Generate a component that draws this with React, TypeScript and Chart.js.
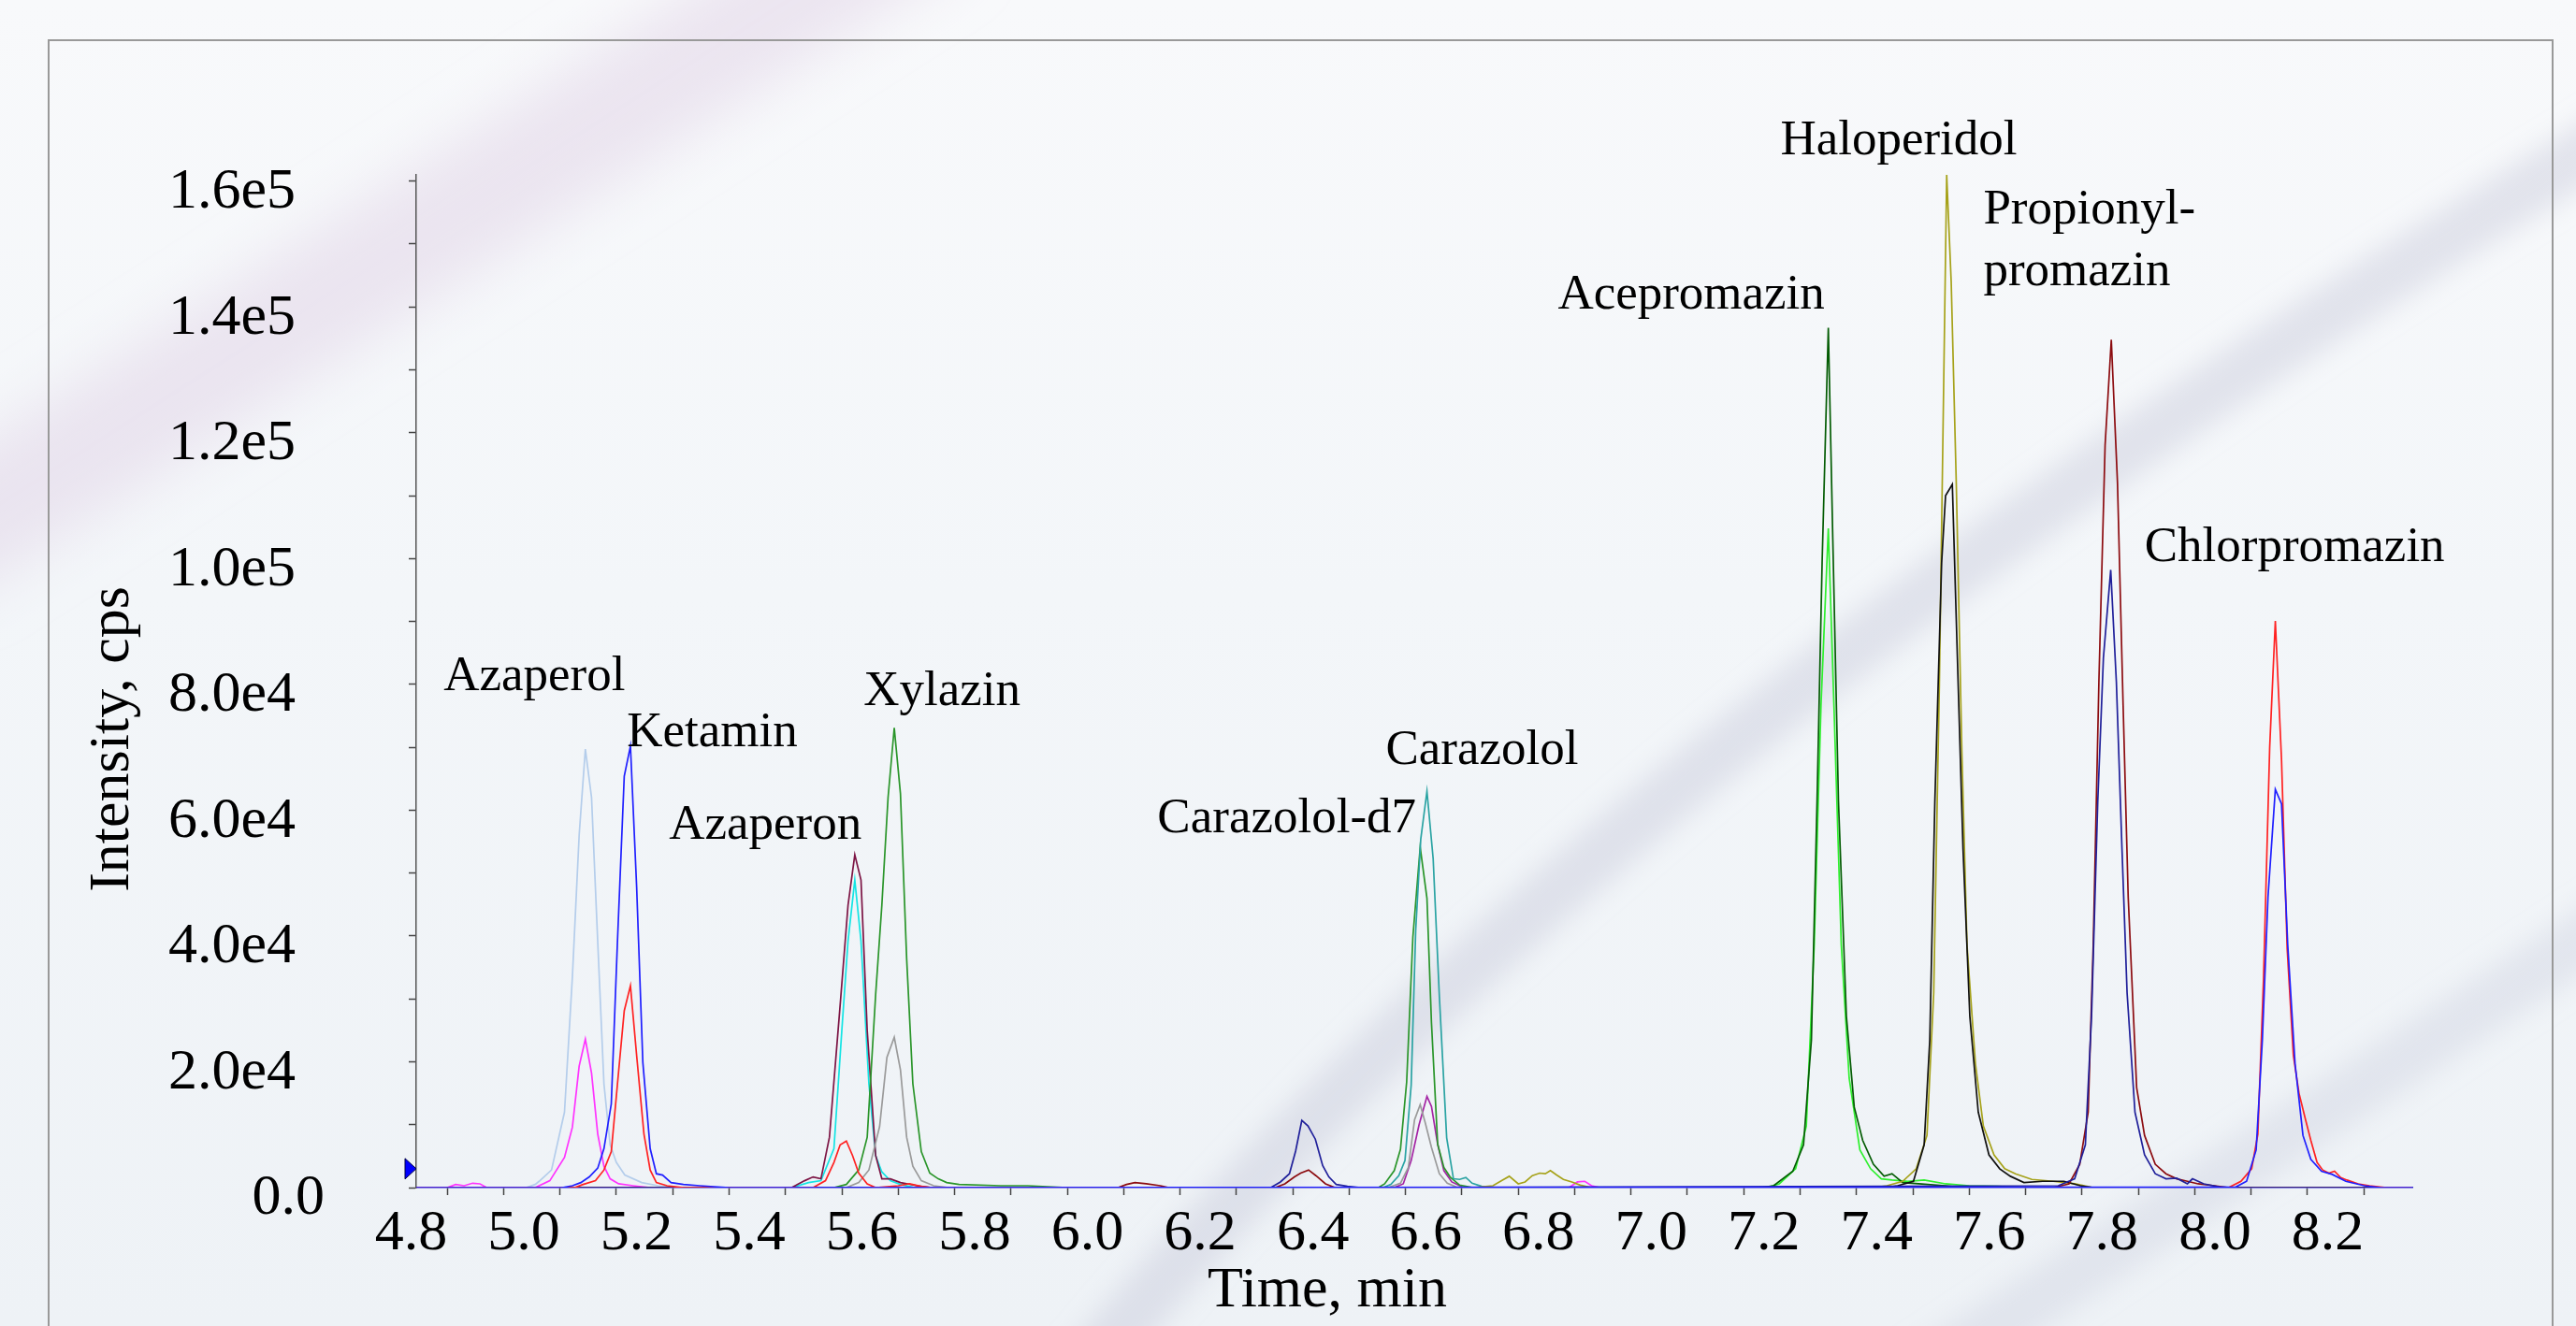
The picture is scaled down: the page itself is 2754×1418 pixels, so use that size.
import React, { useEffect, useRef } from 'react';
import { Chart, registerables } from 'chart.js';

Chart.register(...registerables);

// ---------- axis values ----------
const X_MIN = 4.745;
const X_MAX = 8.286;
const Y_MIN = 0;
const Y_MAX = 161000;

const X_TICKS = [4.8, 4.9, 5.0, 5.1, 5.2, 5.3, 5.4, 5.5, 5.6, 5.7, 5.8, 5.9, 6.0, 6.1, 6.2, 6.3, 6.4, 6.5, 6.6, 6.7, 6.8, 6.9, 7.0, 7.1, 7.2, 7.3, 7.4, 7.5, 7.6, 7.7, 7.8, 7.9, 8.0, 8.1, 8.2];
const X_LABELS = ['4.8', '', '5.0', '', '5.2', '', '5.4', '', '5.6', '', '5.8', '', '6.0', '', '6.2', '', '6.4', '', '6.6', '', '6.8', '', '7.0', '', '7.2', '', '7.4', '', '7.6', '', '7.8', '', '8.0', '', '8.2'];
const Y_TICKS = [0, 10000, 20000, 30000, 40000, 50000, 60000, 70000, 80000, 90000, 100000, 110000, 120000, 130000, 140000, 150000, 160000];
const Y_LABELS = ['0.0', '', '2.0e4', '', '4.0e4', '', '6.0e4', '', '8.0e4', '', '1.0e5', '', '1.2e5', '', '1.4e5', '', '1.6e5'];

const X_TITLE = 'Time, min';
const Y_TITLE = 'Intensity, cps';

// ---------- traces: [time (min), intensity (cps)] ----------
const TRACE_BLUE: [number, number][] = [
  [4.745, 0], [5.004, 0], [5.022, 300], [5.037, 800], [5.052, 1700], [5.067, 3100], [5.078, 6200], [5.091, 13300],
  [5.102, 39200], [5.114, 65400], [5.125, 70200], [5.136, 47800], [5.147, 19900], [5.160, 6200], [5.171, 2200],
  [5.182, 2000], [5.197, 800], [5.219, 500], [5.248, 300], [5.30, 0], [7.973, 100], [7.992, 1000], [8.009, 6000],
  [8.020, 23500], [8.030, 46200], [8.043, 63300], [8.054, 61000], [8.065, 38600], [8.078, 19700], [8.092, 8300],
  [8.106, 4500], [8.125, 2600], [8.144, 2100], [8.168, 1000], [8.201, 300], [8.23, 0], [8.286, 0],
];
const TRACE_RED: [number, number][] = [
  [4.745, 0], [5.026, 0], [5.041, 500], [5.063, 1100], [5.078, 2800], [5.091, 5700], [5.102, 16500], [5.114, 28100],
  [5.125, 32100], [5.136, 21000], [5.149, 8500], [5.160, 2800], [5.171, 800], [5.19, 300], [5.22, 0], [5.449, 0],
  [5.471, 1100], [5.486, 4000], [5.497, 6800], [5.508, 7400], [5.519, 5100], [5.530, 2300], [5.545, 600], [5.56, 0],
  [5.60, 300], [5.62, 600], [5.64, 200], [5.66, 0], [7.96, 0], [7.982, 1000], [8.001, 3000], [8.012, 8500],
  [8.022, 33000], [8.033, 70000], [8.043, 90100], [8.054, 68000], [8.064, 38000], [8.075, 21000], [8.085, 15000],
  [8.096, 11000], [8.106, 7500], [8.117, 4000], [8.127, 2800], [8.138, 2300], [8.148, 2600], [8.159, 1600],
  [8.17, 1200], [8.19, 600], [8.21, 300], [8.24, 0], [8.286, 0],
];
const TRACE_NAVY: [number, number][] = [
  [4.745, 0], [6.261, 0], [6.278, 900], [6.294, 2200], [6.305, 5800], [6.316, 10700], [6.327, 9800], [6.340, 7700],
  [6.353, 3500], [6.364, 1700], [6.377, 500], [6.397, 200], [6.42, 0], [7.658, 300], [7.687, 1400], [7.706, 6800],
  [7.717, 27300], [7.728, 61400], [7.738, 84200], [7.751, 98200], [7.761, 80400], [7.771, 53800], [7.780, 31000],
  [7.794, 12000], [7.811, 5200], [7.830, 2200], [7.849, 1400], [7.868, 1500], [7.887, 600], [7.896, 1400],
  [7.916, 600], [7.944, 100], [7.97, 0], [8.286, 0],
];
const TRACE_DARKRED: [number, number][] = [
  [4.745, 0], [5.99, 0], [6.005, 500], [6.02, 800], [6.04, 600], [6.065, 300], [6.08, 0], [6.269, 0], [6.286, 600],
  [6.303, 1700], [6.314, 2300], [6.328, 2800], [6.341, 1900], [6.358, 600], [6.375, 0], [7.649, 0], [7.677, 600],
  [7.696, 3700], [7.711, 12000], [7.720, 38600], [7.730, 80400], [7.741, 118000], [7.752, 134800], [7.763, 112000],
  [7.773, 76600], [7.782, 46200], [7.797, 15900], [7.811, 8300], [7.830, 3700], [7.849, 2200], [7.868, 1400],
  [7.887, 1000], [7.906, 600], [7.935, 300], [7.96, 0], [8.286, 0],
];
const TRACE_BLACK: [number, number][] = [
  [4.745, 0], [7.35, 0], [7.373, 300], [7.401, 1000], [7.420, 6800], [7.430, 23500], [7.439, 61400], [7.451, 99300],
  [7.458, 110000], [7.470, 111800], [7.479, 84200], [7.489, 53800], [7.501, 27300], [7.516, 12000], [7.535, 5200],
  [7.554, 3000], [7.573, 1800], [7.597, 800], [7.630, 1000], [7.668, 1000], [7.697, 300], [7.72, 0], [8.286, 0],
];
const TRACE_OLIVE: [number, number][] = [
  [4.745, 0], [6.62, 0], [6.655, 300], [6.672, 1200], [6.684, 1800], [6.700, 600], [6.712, 900], [6.725, 1900],
  [6.738, 2300], [6.748, 2200], [6.757, 2700], [6.768, 2000], [6.78, 1300], [6.795, 900], [6.81, 400], [6.83, 0],
  [7.33, 0], [7.354, 300], [7.382, 1000], [7.406, 3000], [7.425, 8300], [7.437, 31000], [7.447, 80000],
  [7.460, 161000], [7.468, 144000], [7.477, 112000], [7.487, 69000], [7.496, 38600], [7.511, 19700], [7.525, 9800],
  [7.544, 5200], [7.563, 3000], [7.582, 2200], [7.611, 1300], [7.649, 1000], [7.687, 600], [7.72, 0], [8.286, 0],
];
const TRACE_DARKGREEN: [number, number][] = [
  [4.745, 0], [7.13, 0], [7.153, 300], [7.187, 2600], [7.206, 6800], [7.220, 23500], [7.230, 61400], [7.239, 99300],
  [7.250, 136700], [7.258, 103000], [7.268, 61400], [7.282, 27300], [7.296, 12800], [7.311, 7500], [7.330, 3700],
  [7.349, 1800], [7.363, 2200], [7.382, 800], [7.41, 600], [7.458, 300], [7.49, 0], [8.286, 0],
];
const TRACE_LIGHTGREEN: [number, number][] = [
  [4.745, 0], [7.14, 0], [7.163, 600], [7.192, 3000], [7.211, 9800], [7.225, 38600], [7.237, 76600], [7.250, 104800],
  [7.260, 76600], [7.273, 38600], [7.287, 17400], [7.306, 6000], [7.325, 3000], [7.344, 1400], [7.363, 1200],
  [7.391, 1000], [7.42, 1200], [7.458, 600], [7.50, 300], [7.55, 200], [7.60, 0], [8.286, 0],
];
const TRACE_TEAL: [number, number][] = [
  [4.745, 0], [6.460, 0], [6.474, 500], [6.488, 1900], [6.499, 4300], [6.510, 16300], [6.518, 40800], [6.527, 55400],
  [6.538, 63000], [6.549, 52300], [6.560, 30400], [6.573, 7900], [6.585, 1400], [6.596, 1300], [6.607, 1600],
  [6.618, 700], [6.635, 200], [6.66, 0], [8.286, 0],
];
const TRACE_GREEN: [number, number][] = [
  [4.745, 0], [5.486, 0], [5.508, 500], [5.53, 2800], [5.545, 8000], [5.560, 30700], [5.571, 44900], [5.582, 62000],
  [5.593, 73100], [5.604, 62600], [5.615, 36400], [5.626, 16500], [5.641, 5700], [5.656, 2300], [5.671, 1400],
  [5.686, 800], [5.708, 500], [5.782, 300], [5.83, 300], [5.90, 0], [6.452, 0], [6.463, 600], [6.480, 2700],
  [6.491, 6100], [6.502, 16800], [6.513, 39800], [6.526, 54100], [6.538, 46000], [6.546, 26200], [6.557, 6900],
  [6.568, 3200], [6.579, 1700], [6.596, 400], [6.62, 0], [8.286, 0],
];
const TRACE_GRAY: [number, number][] = [
  [4.745, 0], [5.508, 0], [5.53, 800], [5.548, 2800], [5.567, 9700], [5.580, 20700], [5.593, 23900], [5.604, 18700],
  [5.615, 8000], [5.626, 3400], [5.641, 1100], [5.663, 300], [5.69, 0], [6.469, 0], [6.491, 700], [6.505, 3200],
  [6.516, 10800], [6.526, 13200], [6.535, 10300], [6.546, 6400], [6.560, 2200], [6.574, 700], [6.590, 100],
  [6.61, 0], [8.286, 0],
];
const TRACE_PURPLE: [number, number][] = [
  [4.745, 0], [6.480, 0], [6.496, 600], [6.510, 4300], [6.524, 10000], [6.538, 14500], [6.546, 12900], [6.557, 6900],
  [6.568, 2700], [6.582, 900], [6.601, 100], [6.62, 0], [8.286, 0],
];
const TRACE_MAROON: [number, number][] = [
  [4.745, 0], [5.411, 0], [5.434, 1100], [5.449, 1700], [5.463, 1400], [5.478, 8000], [5.497, 29000], [5.511, 44900],
  [5.523, 52900], [5.534, 48900], [5.545, 25000], [5.560, 5100], [5.571, 1400], [5.586, 1400], [5.604, 800],
  [5.634, 300], [5.66, 0], [8.286, 0],
];
const TRACE_CYAN: [number, number][] = [
  [4.745, 0], [5.411, 0], [5.441, 800], [5.463, 1100], [5.486, 6200], [5.500, 25000], [5.511, 39200], [5.523, 48900],
  [5.534, 39200], [5.548, 16500], [5.560, 5100], [5.571, 2500], [5.586, 1100], [5.604, 500], [5.63, 0], [8.286, 0],
];
const TRACE_MAGENTA: [number, number][] = [
  [4.745, 0], [4.80, 0], [4.815, 500], [4.83, 300], [4.845, 700], [4.858, 600], [4.87, 0], [4.956, 0], [4.982, 1100],
  [5.008, 4800], [5.022, 9600], [5.034, 19300], [5.045, 23600], [5.056, 18200], [5.067, 8500], [5.078, 3400],
  [5.089, 1400], [5.104, 600], [5.130, 300], [5.16, 0], [6.79, 0], [6.805, 900], [6.818, 1000], [6.83, 300],
  [6.845, 0], [8.286, 0],
];
const TRACE_LIGHTBLUE: [number, number][] = [
  [4.745, 0], [4.94, 0], [4.956, 500], [4.963, 1000], [4.985, 2800], [5.008, 12000], [5.022, 33500], [5.034, 56000],
  [5.045, 69700], [5.056, 62000], [5.067, 39000], [5.078, 16500], [5.089, 6800], [5.100, 4000], [5.115, 2000],
  [5.145, 800], [5.174, 300], [5.21, 0], [8.286, 0],
];

// peak labels: text, time, intensity of the text's left / baseline anchor
const PEAK_LABELS: [string, number, number][] = [
  ['Azaperol', 4.7934, 79100],
  ['Ketamin', 5.1187, 70200],
  ['Azaperon', 5.1934, 55500],
  ['Xylazin', 5.5386, 76700],
  ['Carazolol-d7', 6.0598, 56500],
  ['Carazolol', 6.4647, 67400],
  ['Acepromazin', 6.770, 139800],
  ['Haloperidol', 7.165, 164300],
  ['Propionyl-', 7.525, 153200],
  ['promazin', 7.525, 143500],
  ['Chlorpromazin', 7.811, 99600],
];

// start-of-window marker on the intensity axis
const MARKER_INTENSITY = 3000;

// ---------- styling ----------
const W = 2754;
const H = 1418;
const SERIF = "'Liberation Serif', 'Times New Roman', Times, serif";

const SERIES: { data: [number, number][]; color: string }[] = [
  { data: TRACE_BLUE, color: '#1f1fff' },
  { data: TRACE_RED, color: '#ff2222' },
  { data: TRACE_NAVY, color: '#20209a' },
  { data: TRACE_DARKRED, color: '#8c0c10' },
  { data: TRACE_BLACK, color: '#111111' },
  { data: TRACE_OLIVE, color: '#a6a21a' },
  { data: TRACE_DARKGREEN, color: '#045c04' },
  { data: TRACE_LIGHTGREEN, color: '#2ef02e' },
  { data: TRACE_TEAL, color: '#2aa3a3' },
  { data: TRACE_GREEN, color: '#2a952a' },
  { data: TRACE_GRAY, color: '#9a9a9a' },
  { data: TRACE_PURPLE, color: '#a424a4' },
  { data: TRACE_MAROON, color: '#7c1444' },
  { data: TRACE_CYAN, color: '#14e4e4' },
  { data: TRACE_MAGENTA, color: '#ff33ff' },
  { data: TRACE_LIGHTBLUE, color: '#b4cdeb' },
];

const peakLabelPlugin = {
  id: 'peakLabels',
  afterDatasetsDraw(chart: any) {
    const { ctx, scales } = chart;
    const xs = scales.x;
    const ys = scales.y;
    ctx.save();
    ctx.fillStyle = '#000';
    ctx.font = `53px ${SERIF}`;
    ctx.textAlign = 'left';
    ctx.textBaseline = 'alphabetic';
    for (const [text, t, v] of PEAK_LABELS) {
      ctx.fillText(text, xs.getPixelForValue(t), ys.getPixelForValue(v));
    }
    // blue start marker on the y axis
    const x0 = chart.chartArea.left;
    const y0 = ys.getPixelForValue(MARKER_INTENSITY);
    ctx.beginPath();
    ctx.moveTo(x0 - 12, y0 - 11);
    ctx.lineTo(x0, y0);
    ctx.lineTo(x0 - 12, y0 + 11);
    ctx.closePath();
    ctx.fillStyle = '#0000ff';
    ctx.fill();
    ctx.lineWidth = 1;
    ctx.strokeStyle = '#000040';
    ctx.stroke();
    ctx.restore();
  },
};

function Backdrop() {
  return (
    <svg width={W} height={H} style={{ position: 'absolute', left: 0, top: 0 }}>
      <defs>
        <linearGradient id="bgTone" x1="0" y1="0" x2="0" y2="1">
          <stop offset="0" stopColor="#f8f9fb" />
          <stop offset="0.45" stopColor="#f3f6f9" />
          <stop offset="1" stopColor="#eef2f6" />
        </linearGradient>
        <filter id="softA" x="-20%" y="-20%" width="140%" height="140%">
          <feGaussianBlur stdDeviation="30" />
        </filter>
        <filter id="softB" x="-20%" y="-20%" width="140%" height="140%">
          <feGaussianBlur stdDeviation="14" />
        </filter>
      </defs>
      <rect x="0" y="0" width={W} height={H} fill="url(#bgTone)" />
      <path d="M -80 590 L 1000 -100" stroke="rgba(226,214,232,0.55)" strokeWidth="130" fill="none" filter="url(#softA)" />
      <path d="M 1150 1480 Q 1700 800 2820 130" stroke="rgba(188,192,212,0.36)" strokeWidth="60" fill="none" filter="url(#softB)" />
      <path d="M 1980 1520 L 2830 960" stroke="rgba(196,200,218,0.32)" strokeWidth="60" fill="none" filter="url(#softB)" />
    </svg>
  );
}

export default function App() {
  const canvasRef = useRef<HTMLCanvasElement | null>(null);

  useEffect(() => {
    const canvas = canvasRef.current;
    if (!canvas) return;
    const chart = new Chart(canvas, {
      type: 'line',
      data: {
        datasets: SERIES.map((s) => ({
          data: s.data.map(([x, y]) => ({ x, y })),
          borderColor: s.color,
          backgroundColor: s.color,
          borderWidth: 1.7,
          pointRadius: 0,
          tension: 0,
          fill: false,
        })),
      },
      options: {
        animation: false,
        responsive: false,
        maintainAspectRatio: false,
        devicePixelRatio: 1,
        events: [],
        layout: { padding: { left: 0, top: 187, right: 175, bottom: 0 } },
        plugins: { legend: { display: false }, tooltip: { enabled: false } },
        scales: {
          x: {
            type: 'linear',
            min: X_MIN,
            max: X_MAX,
            afterBuildTicks: (s: any) => {
              s.ticks = X_TICKS.map((v) => ({ value: v }));
            },
            afterFit: (s: any) => {
              s.height = 148;
            },
            ticks: {
              autoSkip: false,
              maxRotation: 0,
              minRotation: 0,
              align: 'end',
              padding: 5,
              color: '#000',
              font: { family: SERIF, size: 62 },
              callback: (_v: any, i: number) => X_LABELS[i],
            },
            grid: { drawOnChartArea: false, drawTicks: true, tickLength: 8, tickColor: '#444', tickWidth: 1.5 },
            border: { display: true, color: '#2a2ad0', width: 1.5 },
            title: {
              display: true,
              text: X_TITLE + '\u2003\u2003\u2003',
              color: '#000',
              font: { family: SERIF, size: 62 },
              padding: { top: 0, bottom: 0 },
            },
          },
          y: {
            type: 'linear',
            min: Y_MIN,
            max: Y_MAX,
            afterBuildTicks: (s: any) => {
              s.ticks = Y_TICKS.map((v) => ({ value: v }));
            },
            afterFit: (s: any) => {
              s.width = 445;
            },
            ticks: {
              autoSkip: false,
              padding: 90,
              labelOffset: 12,
              color: '#000',
              font: { family: SERIF, size: 62 },
              callback: (_v: any, i: number) => {
                const lab = Y_LABELS[i];
                return lab && lab !== '0.0' ? lab + '\u2002' : lab;
              },
            },
            grid: { drawOnChartArea: false, drawTicks: true, tickLength: 8, tickColor: '#444', tickWidth: 1.5 },
            border: { display: true, color: '#555', width: 1.5 },
            title: {
              display: true,
              text: Y_TITLE + '\u2003\u2003',
              color: '#000',
              font: { family: SERIF, size: 62 },
              padding: { top: 84, bottom: 0 },
            },
          },
        },
      },
      plugins: [peakLabelPlugin],
    } as any);
    return () => chart.destroy();
  }, []);

  return (
    <div
      style={{
        position: 'fixed',
        left: 0,
        top: 0,
        width: W,
        height: H,
        overflow: 'hidden',
        background: '#f3f6f9',
      }}
    >
      <Backdrop />
      <div
        style={{
          position: 'absolute',
          left: 51,
          top: 42,
          width: 2679,
          height: 1500,
          border: '2px solid #999',
          boxSizing: 'border-box',
        }}
      />
      <canvas
        ref={canvasRef}
        width={W}
        height={H}
        style={{ position: 'absolute', left: 0, top: 0, width: W, height: H }}
      />
    </div>
  );
}
